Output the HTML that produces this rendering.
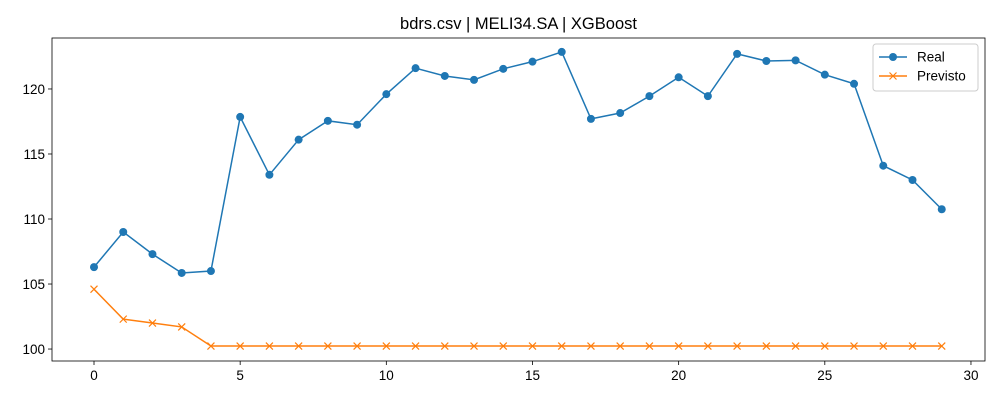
<!DOCTYPE html>
<html><head><meta charset="utf-8"><style>
body{margin:0;background:#fff;}
svg{display:block;font-family:"Liberation Sans",sans-serif;}
</style></head><body>
<svg id="chart" width="1000" height="400" xmlns="http://www.w3.org/2000/svg"></svg>
<script>
const xTicks=[0,5,10,15,20,25,30];
const yTicks=[100,105,110,115,120];
const realValues=[106.3,109.0,107.3,105.85,106.0,117.85,113.4,116.1,117.55,117.25,119.6,121.6,121.0,120.7,121.55,122.1,122.85,117.7,118.15,119.45,120.9,119.45,122.7,122.15,122.2,121.1,120.4,114.1,113.0,110.75];
const predValues=[104.6,102.3,102.0,101.7,100.23,100.23,100.23,100.23,100.23,100.23,100.23,100.23,100.23,100.23,100.23,100.23,100.23,100.23,100.23,100.23,100.23,100.23,100.23,100.23,100.23,100.23,100.23,100.23,100.23,100.23];
const seriesNames=["Real","Previsto"];

const L=52,R=985,T=38,B=361;
const xMin=-1.437,xMax=30.48,yMin=99.08,yMax=123.92;
const sx=v=>L+(v-xMin)/(xMax-xMin)*(R-L);
const sy=v=>B-(v-yMin)/(yMax-yMin)*(B-T);
const NS="http://www.w3.org/2000/svg";
const svg=document.getElementById('chart');
function mk(tag,attrs,parent){const e=document.createElementNS(NS,tag);for(const k in attrs)e.setAttribute(k,attrs[k]);(parent||svg).appendChild(e);return e;}

const title=mk('text',{x:(L+R)/2,y:29,'text-anchor':'middle','font-size':16.5,fill:'#000'});


title.textContent='bdrs.csv | MELI34.SA | XGBoost';

const frame=mk('rect',{x:L,y:T,width:R-L,height:B-T,fill:'none',stroke:'#000','stroke-width':0.8});



xTicks.forEach(t=>{
  const g=mk('g',{});
  
  
  mk('line',{x1:sx(t),x2:sx(t),y1:B,y2:B+4,stroke:'#000','stroke-width':0.8},g);
  const tx=mk('text',{x:sx(t),y:B+19,'text-anchor':'middle','font-size':13.5},g);tx.textContent=t;
});
yTicks.forEach(t=>{
  const g=mk('g',{});
  
  
  mk('line',{x1:L-4,x2:L,y1:sy(t),y2:sy(t),stroke:'#000','stroke-width':0.8},g);
  const tx=mk('text',{x:L-7,y:sy(t)+5,'text-anchor':'end','font-size':13.5},g);tx.textContent=t;
});

function drawSeries(vals,color,marker,name){
  const g=mk('g',{});
  
  
  const pts=vals.map((v,i)=>sx(i)+','+sy(v)).join(' ');
  mk('polyline',{points:pts,fill:'none',stroke:color,'stroke-width':1.5},g);
  vals.forEach((v,i)=>{
    let m;
    if(marker==='o') m=mk('circle',{cx:sx(i),cy:sy(v),r:4,fill:color},g);
    else m=mk('path',{d:`M${sx(i)-3.5},${sy(v)-3.5}L${sx(i)+3.5},${sy(v)+3.5}M${sx(i)-3.5},${sy(v)+3.5}L${sx(i)+3.5},${sy(v)-3.5}`,stroke:color,'stroke-width':1.2,fill:'none'},g);
    
    
  });
}
drawSeries(realValues,'#1f77b4','o',seriesNames[0]);
drawSeries(predValues,'#ff7f0e','x',seriesNames[1]);

const lg=mk('g',{});


mk('rect',{x:873,y:44,width:105,height:47,rx:3,fill:'#fff',stroke:'#ccc','stroke-width':1},lg);
[['#1f77b4','o',seriesNames[0],57],['#ff7f0e','x',seriesNames[1],76]].forEach(([c,m,n,y])=>{
  const e=mk('g',{},lg);
  
  
  mk('line',{x1:879,x2:907,y1:y,y2:y,stroke:c,'stroke-width':1.5},e);
  if(m==='o') mk('circle',{cx:893,cy:y,r:4,fill:c},e);
  else mk('path',{d:`M889.5,${y-3.5}L896.5,${y+3.5}M889.5,${y+3.5}L896.5,${y-3.5}`,stroke:c,'stroke-width':1.2},e);
  const t=mk('text',{x:917,y:y+4.5,'font-size':13.5},e);t.textContent=n;
});
</script>
</body></html>
